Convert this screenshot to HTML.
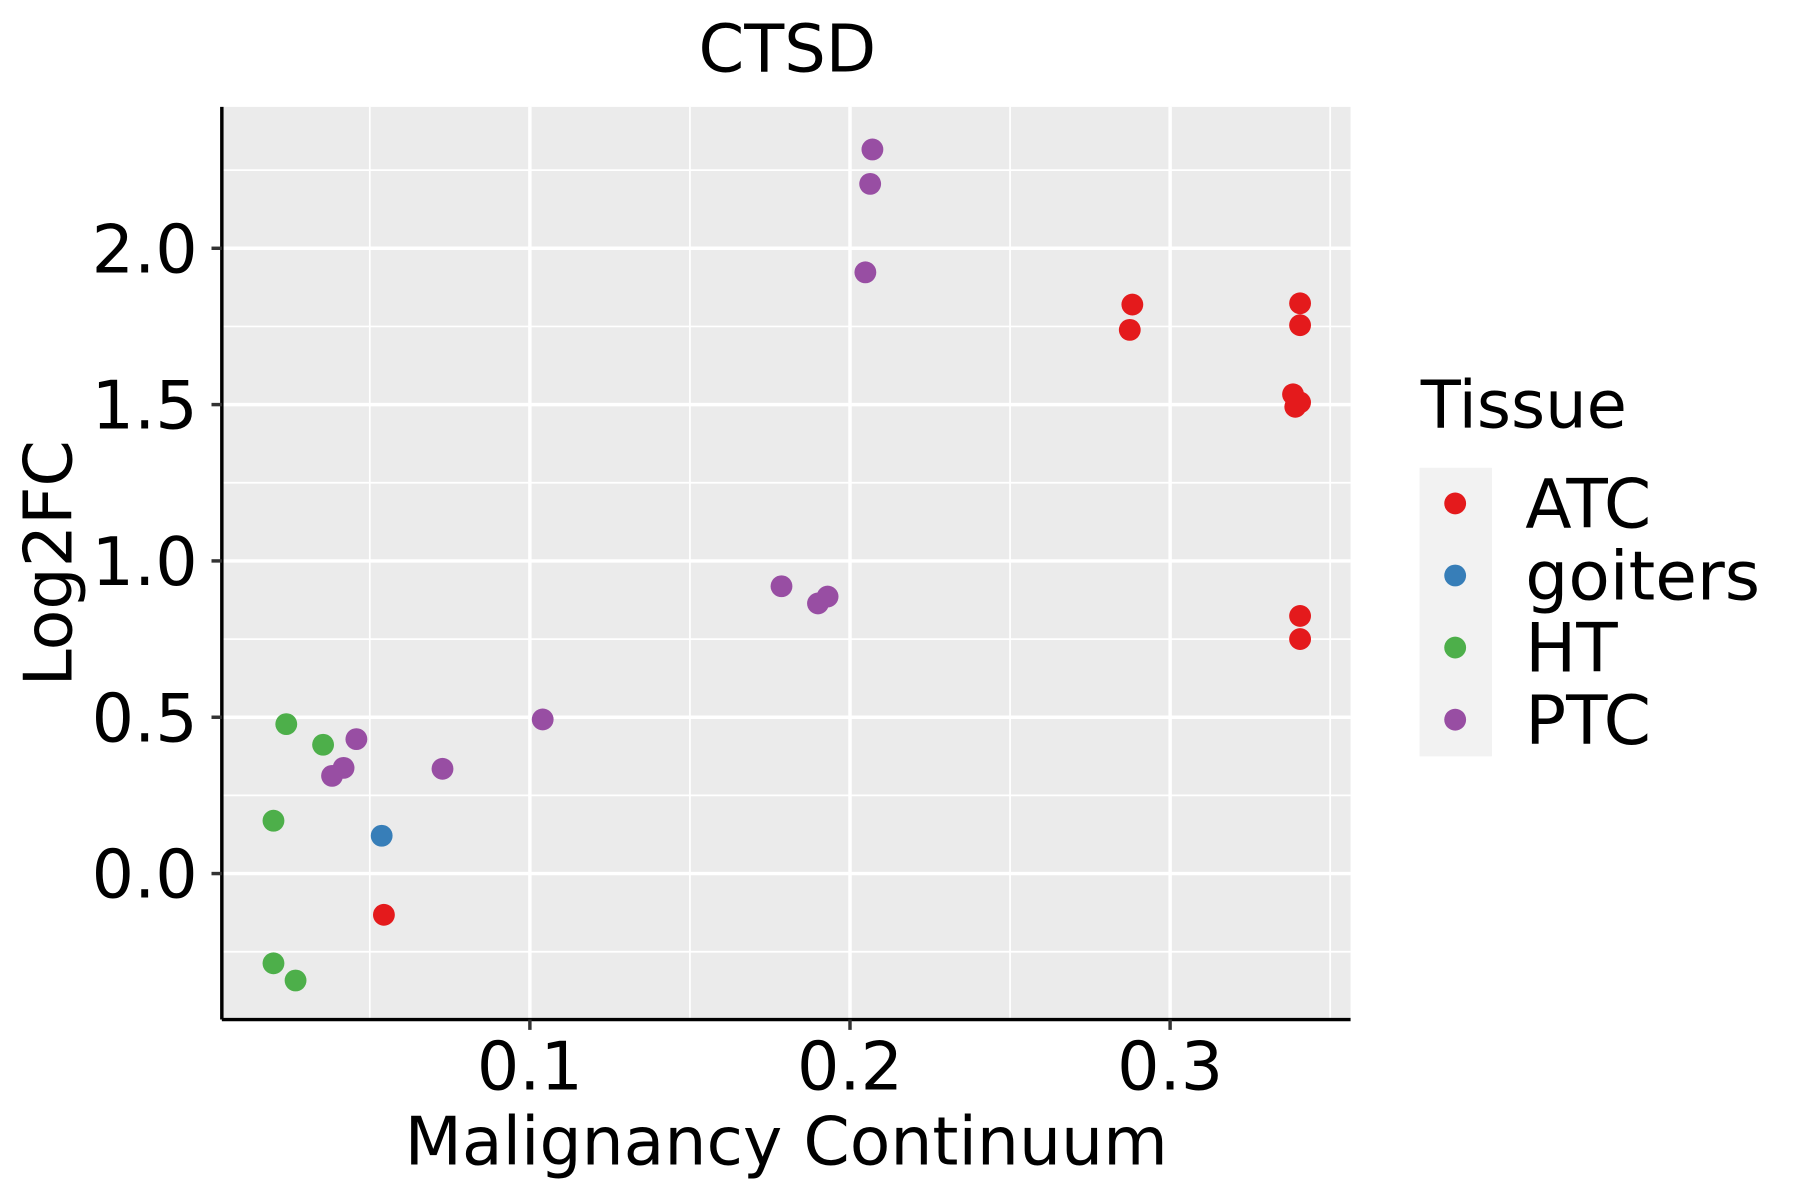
<!DOCTYPE html>
<html><head><meta charset="utf-8"><style>
html,body{margin:0;padding:0;background:#fff}
svg{display:block}
text{font-family:"DejaVu Sans","Liberation Sans",sans-serif;fill:#000}
</style></head><body>
<svg id="chart" width="1800" height="1200" viewBox="0 0 1566 1044" preserveAspectRatio="none" xmlns="http://www.w3.org/2000/svg">
<text x="685" y="62" font-size="57" text-anchor="middle">CTSD</text>
<rect x="193" y="93" width="982" height="794" fill="#EBEBEB"/>
<g id="grid"></g>
<g id="points"></g>
<line x1="193" y1="887" x2="1175" y2="887" stroke="#000" stroke-width="3"/>
<line x1="193" y1="93" x2="193" y2="887" stroke="#000" stroke-width="3"/>
<g id="ticks"></g>
<text x="684" y="1013" font-size="58" text-anchor="middle" textLength="664" lengthAdjust="spacingAndGlyphs">Malignancy Continuum</text>
<text x="0" y="0" font-size="58" text-anchor="middle" transform="translate(62,490) rotate(-90)">Log2FC</text>
<g>
<text x="1236" y="372" font-size="57">Tissue</text>
<rect x="1235" y="407" width="63" height="251" fill="#F2F2F2"/>
<g id="legend-items"></g>
</g>
</svg>
<script>
const categories = ["ATC","goiters","HT","PTC"];
const colors = ["#E41A1C","#377EB8","#4DAF4A","#984EA3"];
const xTicks = [0.1,0.2,0.3];
const xTickLabels = ["0.1","0.2","0.3"];
const yTicks = [0,0.5,1,1.5,2];
const yTickLabels = ["0.0","0.5","1.0","1.5","2.0"];
const atcX = [0.2882,0.2874,0.3406,0.3406,0.3384,0.3406,0.3391,0.3406,0.3406,0.0544];
const atcY = [1.820,1.739,1.824,1.754,1.533,1.507,1.493,0.824,0.750,-0.132];
const goitersX = [0.0537];
const goitersY = [0.121];
const htX = [0.0239,0.0354,0.0199,0.0199,0.0268];
const htY = [0.478,0.412,0.169,-0.287,-0.342];
const ptcX = [0.2070,0.2063,0.2048,0.1786,0.1900,0.1930,0.1040,0.0727,0.0458,0.0418,0.0382];
const ptcY = [2.316,2.206,1.923,0.919,0.864,0.886,0.493,0.335,0.430,0.338,0.3125];

const NS="http://www.w3.org/2000/svg";
const xs = v => 182.5 + v*2785;
const ys = v => 760 - v*272;
function mk(tag, attrs){const e=document.createElementNS(NS,tag);for(const k in attrs)e.setAttribute(k,attrs[k]);return e;}
const grid=document.getElementById('grid');
for(let v=0.05; v<0.36; v+=0.05){
  const major = Math.abs(v*10-Math.round(v*10))<1e-6;
  const l=mk('line',{x1:xs(v),x2:xs(v),y1:93,y2:887,stroke:'#fff','stroke-width':major?3:1.5});
  
  
  grid.appendChild(l);
}
for(let v=-0.25; v<2.3; v+=0.25){
  const major = Math.abs(v*2-Math.round(v*2))<1e-6;
  const l=mk('line',{x1:193,x2:1175,y1:ys(v),y2:ys(v),stroke:'#fff','stroke-width':major?3:1.5});
  
  
  grid.appendChild(l);
}
const ticks=document.getElementById('ticks');
xTicks.forEach((v,i)=>{
  const t=mk('line',{x1:xs(v),x2:xs(v),y1:887,y2:896,stroke:'#333','stroke-width':3});
  
  
  ticks.appendChild(t);
  const tx=mk('text',{x:xs(v),y:948,'font-size':58,'text-anchor':'middle'});
  tx.textContent=xTickLabels[i];
  
  
  ticks.appendChild(tx);
});
yTicks.forEach((v,i)=>{
  const t=mk('line',{x1:184,x2:193,y1:ys(v),y2:ys(v),stroke:'#333','stroke-width':3});
  
  
  ticks.appendChild(t);
  const tx=mk('text',{x:172,y:ys(v)+21,'font-size':58,'text-anchor':'end'});
  tx.textContent=yTickLabels[i];
  
  
  ticks.appendChild(tx);
});
const pts=document.getElementById('points');
const series=[[atcX,atcY],[goitersX,goitersY],[htX,htY],[ptcX,ptcY]];
series.forEach((s,ci)=>{
  s[0].forEach((xv,i)=>{
    const c=mk('circle',{cx:xs(xv),cy:ys(s[1][i]),r:9.5,fill:colors[ci]});
    
    
    pts.appendChild(c);
  });
});
const leg=document.getElementById('legend-items');
categories.forEach((cat,i)=>{
  const y=438+i*62.7;
  const c=mk('circle',{cx:1266,cy:y,r:9.5,fill:colors[i]});
  
  
  leg.appendChild(c);
  const t=mk('text',{x:1327,y:y+21,'font-size':59});
  t.textContent=cat;
  
  
  leg.appendChild(t);
});
</script>
</body></html>
